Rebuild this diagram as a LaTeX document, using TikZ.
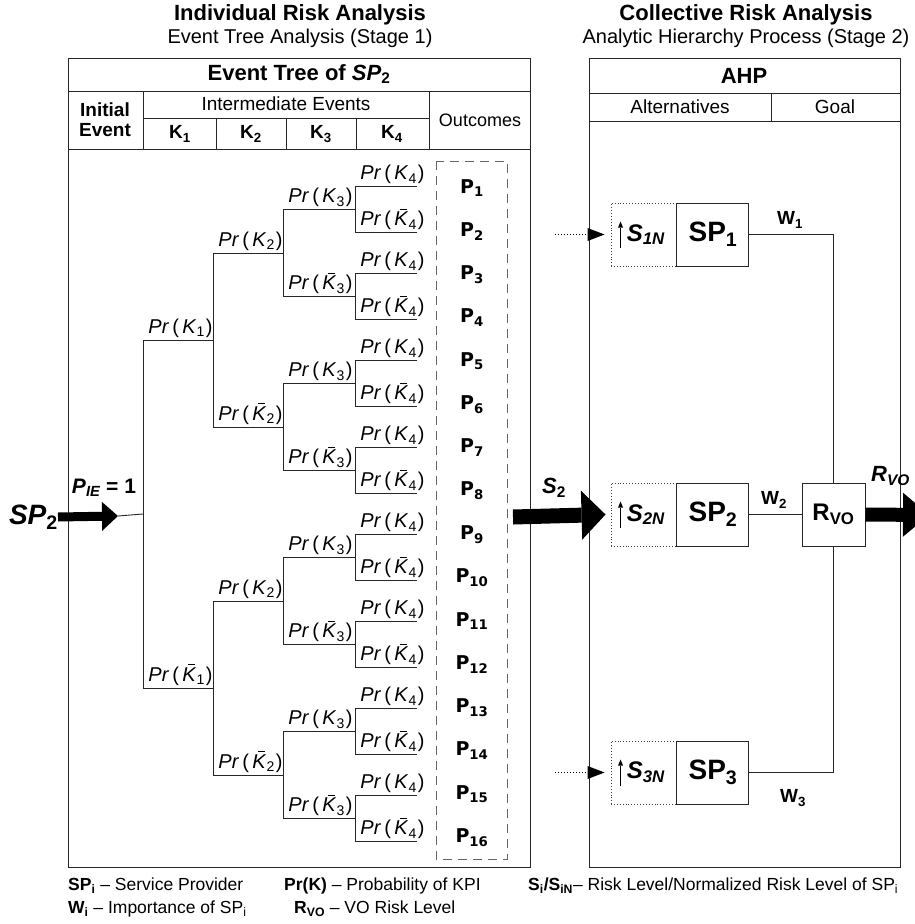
\documentclass[tikz,border=0pt]{standalone}
\usepackage{fontspec}
\setmainfont{Liberation Sans}
\newfontfamily\dejavu{DejaVu Sans}
\usetikzlibrary{arrows.meta, positioning, calc}
\newcommand{\fsz}[1]{\fontsize{#1}{#1}\selectfont}
\newcommand{\kbar}{\textit{K}\llap{\raisebox{0.8em}{\rule{0.36em}{0.055em}}\kern0.06em}}
\newcommand{\prk}[1]{\textit{Pr}\,(\,\textit{K}\textsubscript{#1}\kern1pt)}
\newcommand{\prkb}[1]{\textit{Pr}\,(\,\kbar\textsubscript{#1}\kern1pt)}

\begin{document}
\begin{tikzpicture}[x=1pt, y=-1pt,
      frame/.style={line width=1pt, draw=black!85},
      br/.style={line width=0.9pt, draw=black!85},
      prl/.style={pos=0.5, anchor=south west, xshift=3pt, inner sep=2pt,
                  font=\fsz{20}},
      ttl/.style={font=\fsz{22}\bfseries},
      subt/.style={font=\fsz{20}},
      hdr/.style={font=\fsz{19}},
      kcol/.style={font=\fsz{19}\bfseries},
      outc/.style={font=\fsz{19}\dejavu\bfseries},
      spbox/.style={draw=black!85, line width=1pt, fill=white,
                    minimum width=72pt, minimum height=63pt, inner sep=0pt,
                    font=\fsz{28}\bfseries},
      dotbox/.style={draw=black!75, dotted, line width=0.9pt,
                     minimum width=65pt, minimum height=63pt, inner sep=0pt},
      snl/.style={font=\fsz{24}\bfseries\itshape, inner sep=0pt, anchor=west},
      wlbl/.style={font=\fsz{19}\bfseries},
      bigl/.style={font=\fsz{22}\bfseries\itshape, inner sep=0pt},
      dotarr/.style={dotted, line width=1pt,
                     -{Triangle[length=17pt, width=13pt, line width=0pt]}},
      uparr/.style={line width=1pt,
                    -{Triangle[length=6pt, width=5pt, line width=0pt]}},
      legend/.style={font=\fsz{17.5}, anchor=west, inner sep=0pt}]
    \useasboundingbox (0,0) rectangle (914,924);

    % titles
    \node[ttl] (t1) at (300,15) {Individual Risk Analysis};
    \node[subt] (t1s) at (300,38) {Event Tree Analysis (Stage 1)};
    \node[ttl] (t2) at (746,15) {Collective Risk Analysis};
    \node[subt] (t2s) at (746,38) {Analytic Hierarchy Process (Stage 2)};

    % event tree table
    \draw[frame] (68,58) rectangle (530,867);
    \draw[frame] (68,91) -- (530,91) (68,149) -- (530,149)
                 (143,91) -- (143,149) (429,91) -- (429,149)
                 (143,118) -- (429,118)
                 (216,118) -- (216,149) (286,118) -- (286,149)
                 (356,118) -- (356,149);
    \node[ttl] (et) at (299,74) {Event Tree of \textit{SP}\textsubscript{2}};
    \node[hdr, font=\fsz{19}\bfseries, align=center] (ie) at (105,120)
         {Initial\\[1pt]Event};
    \node[hdr] (im) at (286,104) {Intermediate Events};
    \node[hdr, font=\fsz{18}] (oc) at (480,120) {Outcomes};
    \foreach \k/\x in {1/180, 2/251, 3/321, 4/392}
      \node[kcol] (k\k) at (\x,134) {K\textsubscript{\k}};

    % tree
    \coordinate (root) at (143,514);
    \foreach \ia in {0,1} {
      \pgfmathsetmacro\ya{514+(2*\ia-1)*174}
      \coordinate (a\ia) at (213,\ya);
      \draw[br] (root) |- node[prl] {\ifnum\ia=0 \prk{1}\else\prkb{1}\fi} (a\ia);
      \foreach \ib in {0,1} {
        \pgfmathsetmacro\yb{\ya+(2*\ib-1)*87}
        \coordinate (b\ia\ib) at (283,\yb);
        \draw[br] (a\ia) |- node[prl] {\ifnum\ib=0 \prk{2}\else\prkb{2}\fi} (b\ia\ib);
        \foreach \ic in {0,1} {
          \pgfmathsetmacro\yc{\yb+(2*\ic-1)*43.5}
          \coordinate (c\ia\ib\ic) at (355,\yc);
          \draw[br] (b\ia\ib) |- node[prl] {\ifnum\ic=0 \prk{3}\else\prkb{3}\fi} (c\ia\ib\ic);
          \foreach \id in {0,1} {
            \pgfmathsetmacro\yd{\yc+(2*\id-1)*23}
            \coordinate (d\ia\ib\ic\id) at (417,\yd);
            \draw[br] (c\ia\ib\ic) |- node[prl] {\ifnum\id=0 \prk{4}\else\prkb{4}\fi} (d\ia\ib\ic\id);
          }
        }
      }
    }

    % outcomes
    \draw[draw=black!60, line width=0.9pt, dash pattern=on 9pt off 6pt]
         (436,161) rectangle (507,859);
    \foreach \n in {1,...,16}
      \node[outc] (p\n) at (472,{188+43.3*(\n-1)}) {P\textsubscript{\n}};

    % input of the tree
    \node[font=\fsz{28}\bfseries\itshape, anchor=east, inner sep=0pt] (sp2in)
         at (58,517) {SP\textsubscript{\upshape 2}};
    \coordinate (tipl) at (118,516);
    \draw[line width=9pt, -{Triangle[length=16pt, width=29pt, line width=0pt]}]
         (sp2in.east) -- (tipl);
    \draw[br] (tipl) -- (root);
    \node[bigl, font=\fsz{21}\bfseries\itshape] (pie) at (104,488)
         {P\textsubscript{IE} \upshape= 1};

    % AHP table
    \draw[frame] (589,58) rectangle (900,867);
    \draw[frame] (589,93) -- (900,93) (589,121) -- (900,121)
                 (771,93) -- (771,121);
    \node[ttl] (ahp) at (744,76) {AHP};
    \node[hdr] (alt) at (680,107) {Alternatives};
    \node[hdr] (goal) at (835,107) {Goal};

    % alternatives
    \foreach \i/\y in {1/234.5, 2/514.5, 3/772.5} {
      \node[dotbox] (n\i) at (643.5,\y) {};
      \node[spbox, right=0pt of n\i] (sp\i) {SP\textsubscript{\i}};
      \node[snl] (s\i n) at ([xshift=16pt]n\i.west) {S\textsubscript{\i N}};
      \draw[uparr] ([xshift=-6pt, yshift=-13pt]s\i n.west) -- ([xshift=-6pt, yshift=13pt]s\i n.west);
    }
    \node[spbox, minimum width=63pt, font=\fsz{24}\bfseries] (rvo) at (833.5,514.5)
         {R\textsubscript{VO}};
    \draw[br] (sp1) -| (rvo);
    \draw[br] (sp3) -| (rvo);
    \draw[br] (sp2) -- (rvo);
    \node[wlbl] (w1) at (790,220) {W\textsubscript{1}};
    \node[wlbl] (w2) at (774,500) {W\textsubscript{2}};
    \node[wlbl] (w3) at (793,798) {W\textsubscript{3}};

    % inputs and output
    \coordinate (in1) at (555,234.5);
    \coordinate (in3) at (555,772.5);
    \draw[dotarr] (in1) -- ([xshift=-6pt]n1.west);
    \draw[dotarr] (in3) -- ([xshift=-6pt]n3.west);
    \coordinate (s2from) at (513,517);
    \draw[line width=15pt, -{Triangle[length=24pt, width=49pt, line width=0pt]}]
         (s2from) -- ([xshift=-5pt]n2.west);
    \node[bigl] (s2l) at (554,488) {S\textsubscript{\upshape 2}};
    \coordinate (rvoout) at (929,515);
    \draw[line width=14pt, -{Triangle[length=26pt, width=44pt, line width=0pt]}]
         (rvo.east) -- (rvoout);
    \node[bigl, anchor=west] (rvol) at (871,476) {R\textsubscript{VO}};

    % legend
    \node[legend] (l1) at (68,886) {\textbf{SP\textsubscript{i}} -- Service Provider};
    \node[legend] (l2) at (68,909) {\textbf{W\textsubscript{i}} -- Importance of SP\textsubscript{i}};
    \node[legend] (l3) at (284,886) {\textbf{Pr(K)} -- Probability of KPI};
    \node[legend] (l4) at (294,909) {\textbf{R\textsubscript{VO}} -- VO Risk Level};
    \node[legend] (l5) at (528,886)
         {\textbf{S\textsubscript{i}/S\textsubscript{iN}}-- Risk Level/Normalized Risk Level of SP\textsubscript{i}};
  \end{tikzpicture}
\end{document}
